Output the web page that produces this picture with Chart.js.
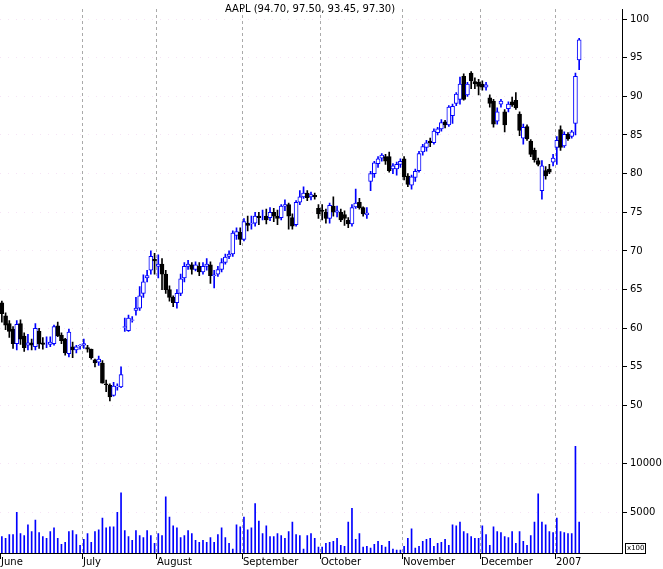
<!DOCTYPE html><html><head><meta charset="utf-8">
<script src="https://cdn.jsdelivr.net/npm/chart.js@4"></script>
<style>html,body{margin:0;padding:0;background:#fff}#w{width:663px;height:569px}</style></head><body><div id="w"><canvas id="c"></canvas></div>
<script>
// rows: [open, high, low, close]
const june=[[63.3,63.5,60.8,61.9],[61.6,62.0,59.8,60.4],[60.6,61.0,58.8,59.6],[59.9,60.2,57.4,58.0],[58.0,61.0,57.2,60.5],[60.6,61.1,57.9,58.6],[59.0,59.4,57.0,57.5],[57.8,59.2,57.2,58.1],[58.1,58.6,57.2,57.8],[57.6,60.6,57.2,60.0],[59.6,60.0,57.4,58.0],[58.1,58.8,57.3,57.9],[58.0,58.9,57.5,58.0],[57.9,58.9,57.6,58.2],[58.0,60.4,57.8,60.2],[60.3,60.8,58.9,59.0],[59.1,59.4,58.0,58.4],[58.6,58.7,56.5,56.8],[56.7,59.9,56.3,59.5],[57.6,58.2,56.2,57.2],[57.2,57.8,56.8,57.6],[57.7,57.9,57.3,57.8]];
const july=[[57.8,58.6,57.4,58.0],[57.5,57.8,56.9,57.3],[57.3,57.3,56.0,56.2],[55.9,56.0,55.0,55.5],[55.6,56.4,55.2,56.0],[55.5,55.8,52.9,52.9],[52.8,53.3,51.8,52.7],[52.6,52.8,50.6,51.1],[51.3,53.0,51.2,52.5],[52.4,52.8,52.0,52.5],[52.4,55.0,52.3,54.0],[60.1,61.3,59.6,60.2],[59.7,61.7,59.6,61.3],[61.0,61.5,60.8,61.1],[62.3,64.0,61.7,62.6],[62.6,65.4,62.3,64.2],[64.5,66.9,64.0,66.0],[66.5,67.5,66.0,66.8],[67.5,70.0,67.0,69.3],[68.9,69.7,67.0,68.7]];
const august=[[68.0,69.5,66.5,68.3],[68.3,69.0,65.0,67.0],[67.0,67.5,64.5,65.0],[65.0,65.5,63.5,64.0],[64.0,64.2,62.8,63.3],[63.3,65.0,62.6,64.5],[64.5,67.0,64.2,66.4],[66.5,68.5,66.0,68.0],[68.0,68.8,67.6,68.3],[68.2,68.5,67.0,67.6],[67.6,68.6,67.4,68.2],[68.0,68.5,66.8,67.3],[67.3,68.5,67.0,68.0],[68.0,69.0,67.5,68.3],[68.2,68.6,65.8,66.8],[66.8,67.5,65.2,66.9],[67.0,68.0,66.7,67.6],[67.6,69.0,67.3,68.5],[68.5,69.6,68.3,69.2],[69.3,70.0,69.0,69.6],[69.6,72.6,69.3,72.3],[72.0,73.0,71.5,72.5],[72.4,73.0,70.8,71.5]];
const september=[[71.5,74.2,71.3,73.8],[73.6,74.5,72.6,73.3],[73.5,74.5,72.8,73.6],[73.6,75.0,73.2,74.5],[74.5,75.0,73.4,74.3],[74.6,75.3,74.0,74.6],[74.5,75.4,73.5,74.0],[74.3,75.6,73.9,75.0],[75.0,75.5,73.8,74.5],[74.5,75.3,73.4,74.2],[74.3,76.0,74.0,75.8],[75.8,76.6,75.2,76.0],[76.0,76.2,72.8,74.5],[74.3,74.8,72.8,73.2],[73.4,76.5,73.2,76.3],[76.3,77.8,76.0,77.0],[77.0,78.3,76.8,77.5],[77.5,77.8,76.5,76.9],[77.0,77.6,76.6,77.3],[77.2,77.5,76.7,77.0],[75.5,76.0,74.2,74.8]];
const october=[[75.3,76.0,74.0,75.1],[75.0,75.4,73.6,74.2],[74.2,76.2,73.6,75.9],[75.8,77.0,74.5,75.0],[75.0,75.8,74.4,75.2],[75.0,75.4,73.8,74.0],[74.7,75.2,73.3,74.2],[74.0,74.3,73.0,73.5],[73.5,76.0,73.2,75.6],[75.7,78.0,75.5,76.2],[76.3,76.8,75.4,75.6],[75.6,75.7,74.5,74.8],[74.7,75.6,74.2,74.9],[79.0,80.3,77.8,80.0],[80.0,81.6,79.5,81.4],[81.3,82.2,80.8,81.9],[82.0,82.6,81.6,82.4],[82.2,82.5,81.2,81.6],[82.2,82.8,80.2,80.4],[80.6,81.3,80.0,81.0],[80.6,81.5,79.8,81.2],[81.2,81.9,80.8,81.6]];
const november=[[81.9,82.2,79.2,79.6],[79.7,80.0,78.3,78.6],[78.5,79.8,78.0,79.6],[79.5,80.6,79.0,80.3],[80.4,82.9,80.2,82.6],[82.8,83.8,82.4,83.5],[83.4,84.3,82.9,84.0],[84.2,84.6,83.5,84.0],[84.0,85.8,83.8,85.5],[85.3,86.0,85.0,85.8],[85.8,87.0,85.5,86.6],[86.7,86.9,85.9,86.3],[86.3,88.8,86.1,88.6],[87.5,89.0,86.5,88.7],[89.1,90.5,88.8,90.3],[89.6,92.5,89.0,91.6],[92.6,92.9,89.5,89.6],[90.2,91.8,90.0,91.6],[93.0,93.2,91.0,92.0],[91.9,92.4,91.0,91.6],[91.8,92.2,90.2,91.3]];
const december=[[91.6,92.0,90.8,91.2],[91.2,91.8,90.8,91.5],[89.8,90.2,88.6,89.1],[89.4,89.6,86.0,86.4],[86.8,88.5,86.4,88.0],[89.0,89.6,88.6,89.4],[88.0,88.3,85.4,86.3],[88.4,89.3,88.0,89.0],[89.3,89.9,88.7,88.9],[89.5,90.5,88.3,88.5],[87.7,88.0,84.9,85.6],[84.6,86.4,83.8,86.0],[86.1,86.3,84.3,84.5],[84.2,84.4,82.2,82.5],[83.0,83.3,81.5,81.8],[81.7,82.0,81.0,81.2],[77.8,81.7,76.7,81.0],[80.4,80.9,79.3,79.7],[80.6,81.2,80.0,80.2],[81.5,82.5,81.0,82.0]];
const january=[[83.4,84.8,81.2,84.3],[85.7,86.2,83.0,83.4],[83.6,85.4,83.4,85.1],[85.1,85.3,84.3,84.5],[84.8,85.6,84.6,85.4],[86.5,93.0,85.0,92.6],[94.7,97.5,93.45,97.3]];
const volumes=[2500,2300,2700,2700,5000,2800,2600,3700,3000,4200,2900,2500,2300,3000,3400,2300,1700,1900,3000,3100,2700,1600,
2200,2800,1900,3000,3200,4400,3400,3500,3500,5000,7000,3100,2500,2100,3100,2600,2400,3100,2600,1800,
2800,2600,6600,4500,3600,3400,2400,2600,3100,2800,2100,1900,2100,1900,2400,1900,2700,3400,2400,1800,1200,3700,3500,
4500,3200,3400,5900,4100,2800,3600,2500,2500,2800,2600,2300,3000,4000,2700,2600,1200,2600,2800,2300,1400,
1400,1800,1900,2000,2300,1600,1500,4000,5400,2200,2800,1400,1500,1300,1700,2000,1600,1400,2000,1200,1100,1100,
1500,2300,3300,1300,1500,2000,2200,2300,1500,1800,1900,2200,1600,3700,3600,4000,3000,2800,2500,2300,2300,
3600,2700,1600,3500,3000,2900,2500,2400,3000,1800,3000,2000,1600,2600,4000,6900,4000,3700,3000,2900,
4400,3000,2900,2800,2800,11800,4000];
const monthNames=['June','July','August','September','October','November','December','2007'];
const months=[june,july,august,september,october,november,december,january];
const priceTicks=[50,55,60,65,70,75,80,85,90,95,100];
const volTicks=[5000,10000];
const titleText='AAPL (94.70, 97.50, 93.45, 97.30)';
const emptySlots=11;

const rows=[].concat(...months);
const monthStarts=[];let acc=0;months.forEach(m=>{monthStarts.push(acc);acc+=m.length;});
const labels=[];for(let i=0;i<rows.length+emptySlots;i++)labels.push(i);
const up=rows.map(r=>r[3]>=r[0]);
const BLUE='#0000ff';
const F='"DejaVu Sans", sans-serif';

const deco={id:'deco',
 beforeDatasetsDraw(ch){const c=ch.ctx,x=ch.scales.x,a=ch.chartArea;c.save();
  c.strokeStyle='#aaa';c.setLineDash([3,3]);c.lineWidth=1;
  monthStarts.forEach((s,k)=>{if(k===0)return;const px=Math.round((x.getPixelForValue(s-1)+x.getPixelForValue(s))/2)+0.5;
   c.beginPath();c.moveTo(px,a.top);c.lineTo(px,a.bottom);c.stroke();});
  c.restore();},
 afterDraw(ch){const c=ch.ctx,x=ch.scales.x,a=ch.chartArea;c.save();
  c.fillStyle='#000';c.font='10px '+F;c.textBaseline='top';
  c.strokeStyle='#000';c.lineWidth=1;
  c.beginPath();c.moveTo(a.left,a.bottom+0.5);c.lineTo(a.right,a.bottom+0.5);c.stroke();
  monthStarts.forEach((s,k)=>{const px=k===0?0:Math.round((x.getPixelForValue(s-1)+x.getPixelForValue(s))/2);
   c.beginPath();c.moveTo(px+0.5,a.bottom);c.lineTo(px+0.5,a.bottom+6);c.stroke();
   c.fillText(monthNames[k],px+1,a.bottom+4);});
  c.textAlign='center';c.fillText(titleText,310,4);
  c.strokeRect(a.right+3.5,a.bottom-9.5,20,10);
  c.font='7px '+F;c.textAlign='left';c.fillText('x100',a.right+5,a.bottom-8);
  c.restore();}};

new Chart(document.getElementById('c'),{
 type:'bar',
 data:{labels,datasets:[
  {data:rows.map(r=>[r[0],r[3]]),yAxisID:'y',barThickness:4,grouped:false,order:1,
   backgroundColor:up.map(u=>u?'#fff':'#000'),borderColor:up.map(u=>u?BLUE:'#000'),borderWidth:1,borderSkipped:false},
  {data:rows.map(r=>[r[2],r[1]]),yAxisID:'y',barThickness:1,grouped:false,order:2,
   backgroundColor:up.map(u=>u?BLUE:'#000'),borderWidth:0},
  {data:volumes,yAxisID:'yv',barThickness:1,grouped:false,order:3,backgroundColor:BLUE,borderWidth:0}
 ]},
 options:{responsive:true,maintainAspectRatio:false,animation:false,
  layout:{padding:{top:0,left:0,right:0,bottom:16}},
  plugins:{legend:{display:false},tooltip:{enabled:false}},
  scales:{
   x:{display:false,offset:true},
   y:{position:'right',stack:'s',stackWeight:436,min:45.1,max:101.3,
    afterBuildTicks:ax=>{ax.ticks=priceTicks.map(v=>({value:v}));},
    afterFit:ax=>{ax.width=41;},
    border:{color:'#000',dash:[1,7]},
    grid:{color:'#f6e4f6',tickColor:'#000',tickLength:5},
    ticks:{color:'#000',font:{size:10,family:F},padding:3}},
   yv:{position:'right',stack:'s',stackWeight:110,min:800,max:12100,
    afterBuildTicks:ax=>{ax.ticks=volTicks.map(v=>({value:v}));},
    afterFit:ax=>{ax.width=41;},
    border:{color:'#000',dash:[1,7]},
    grid:{color:'#f6e4f6',tickColor:'#000',tickLength:5},
    ticks:{color:'#000',font:{size:10,family:F},padding:3,callback:v=>String(v)}}
  }}
 ,plugins:[deco]});
</script></body></html>
